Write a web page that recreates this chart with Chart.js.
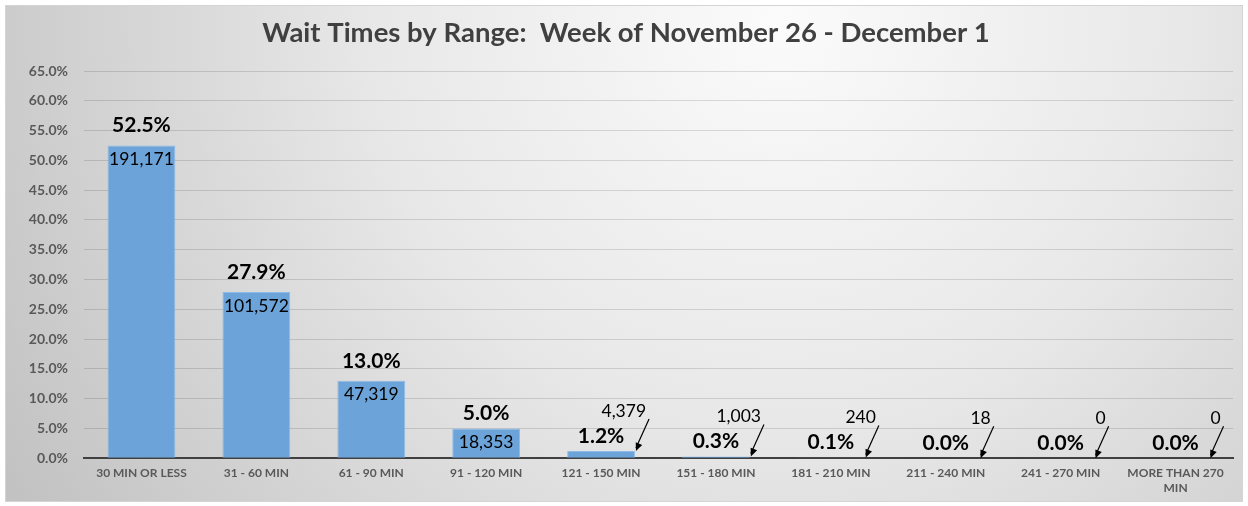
<!DOCTYPE html>
<html>
<head>
<meta charset="utf-8">
<script src="https://cdn.jsdelivr.net/npm/chart.js@4.4.1/dist/chart.umd.min.js"></script>
<style>
  html, body { margin: 0; padding: 0; background: #ffffff; }
  #wrap { position: relative; width: 1248px; height: 506px; }
</style>
</head>
<body>
<div id="wrap"><canvas id="c" width="1248" height="506"></canvas></div>
<script>
const categories = ['30 MIN OR LESS', '31 - 60 MIN', '61 - 90 MIN', '91 - 120 MIN', '121 - 150 MIN',
  '151 - 180 MIN', '181 - 210 MIN', '211 - 240 MIN', '241 - 270 MIN', ['MORE THAN 270', 'MIN']];
const percentValues = [52.5, 27.9, 13.0, 5.0, 1.2, 0.3, 0.1, 0.0, 0.0, 0.0];
const countValues = [191171, 101572, 47319, 18353, 4379, 1003, 240, 18, 0, 0];
const titleText = 'Wait Times by Range:  Week of November 26 - December 1';
const yMax = 65;
const yStep = 5;

const FONT = 'Lato, "Open Sans", sans-serif';

const bgPlugin = {
  id: 'bg',
  beforeDraw(chart) {
    const ctx = chart.ctx;
    ctx.save();
    ctx.fillStyle = '#ffffff';
    ctx.fillRect(0, 0, chart.width, chart.height);
    const g = ctx.createRadialGradient(780, 20, 0, 780, 20, 900);
    g.addColorStop(0, '#fbfbfb');
    g.addColorStop(0.45, '#e8e8e8');
    g.addColorStop(1, '#c2c2c2');
    ctx.fillStyle = g;
    ctx.fillRect(5, 5, 1238, 497);
    ctx.strokeStyle = '#d4d4d4';
    ctx.lineWidth = 1;
    ctx.strokeRect(5.5, 5.5, 1237, 496);
    ctx.restore();
  }
};

const labelPlugin = {
  id: 'barLabels',
  afterDatasetsDraw(chart) {
    const ctx = chart.ctx;
    const meta = chart.getDatasetMeta(0);
    ctx.save();
    meta.data.forEach((el, i) => {
      const x = el.x, top = el.y;
      const half = el.width / 2;
      const pct = percentValues[i];
      const big = pct >= 5;
      // percentage label
      ctx.fillStyle = '#000000';
      ctx.font = 'bold 21px ' + FONT;
      ctx.textAlign = 'center';
      ctx.textBaseline = 'middle';
      ctx.fillText(pct.toFixed(1) + '%', x, top - (pct >= 10 ? 20 : 15));
      // count label
      const txt = countValues[i].toLocaleString('en-US');
      ctx.font = '17.5px ' + FONT;
      if (big) {
        ctx.textAlign = 'center';
        ctx.fillText(txt, x, top + 14);
      } else {
        ctx.textAlign = 'right';
        ctx.fillText(txt, x + 45, top - 40);
        // arrow
        const x1 = x + 48, y1 = top - 32, x2 = x + half + 1, y2 = top;
        ctx.strokeStyle = '#000000';
        ctx.lineWidth = 1.2;
        ctx.beginPath();
        ctx.moveTo(x1, y1);
        ctx.lineTo(x2, y2 - 3);
        ctx.stroke();
        const ang = Math.atan2(y2 - y1, x2 - x1);
        const L = 8, W = 3.5;
        ctx.fillStyle = '#000000';
        ctx.beginPath();
        ctx.moveTo(x2, y2);
        ctx.lineTo(x2 - L * Math.cos(ang) + W * Math.sin(ang), y2 - L * Math.sin(ang) - W * Math.cos(ang));
        ctx.lineTo(x2 - L * Math.cos(ang) - W * Math.sin(ang), y2 - L * Math.sin(ang) + W * Math.cos(ang));
        ctx.closePath();
        ctx.fill();
      }
    });
    ctx.restore();
  }
};

new Chart(document.getElementById('c'), {
  type: 'bar',
  data: {
    labels: categories,
    datasets: [{
      data: percentValues,
      backgroundColor: '#6ca3d9',
      borderColor: '#8dbbe8',
      borderWidth: 1,
      barPercentage: 0.59,
      categoryPercentage: 1.0
    }]
  },
  options: {
    responsive: false,
    animation: false,
    devicePixelRatio: 1,
    layout: { padding: { left: 19, right: 15, top: 0, bottom: 3 } },
    plugins: {
      legend: { display: false },
      tooltip: { enabled: false },
      title: {
        display: true,
        text: titleText,
        color: '#404040',
        font: { family: FONT, size: 27.5, weight: 'bold' },
        padding: { top: 17, bottom: 21 }
      }
    },
    scales: {
      x: {
        grid: { display: false, drawTicks: false },
        border: { display: true, color: '#404040', width: 2 },
        ticks: {
          color: '#595959',
          font: { family: FONT, size: 12, weight: 'bold' },
          padding: 8,
          maxRotation: 0,
          autoSkip: false
        }
      },
      y: {
        min: 0,
        max: yMax,
        afterFit(s) { s.width = 65; },
        grid: { color: 'rgba(0,0,0,0.13)', drawTicks: false },
        border: { display: false },
        ticks: {
          stepSize: yStep,
          color: '#595959',
          font: { family: FONT, size: 14, weight: 'bold' },
          padding: 16,
          callback: v => v.toFixed(1) + '%'
        }
      }
    }
  },
  plugins: [bgPlugin, labelPlugin]
});
</script>
</body>
</html>
